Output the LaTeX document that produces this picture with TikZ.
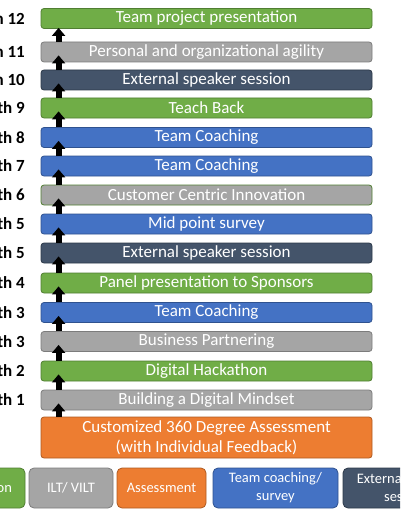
\documentclass[tikz,border=0pt]{standalone}
\usepackage{fontspec}
\setmainfont{Carlito}
\usetikzlibrary{arrows.meta}
\definecolor{leafgreen}{HTML}{70AD47}
\definecolor{leafgreenline}{HTML}{507E32}
\definecolor{ashgray}{HTML}{A5A5A5}
\definecolor{ashgrayline}{HTML}{7C7C7C}
\definecolor{slatenavy}{HTML}{44546A}
\definecolor{slatenavyline}{HTML}{2C3848}
\definecolor{royalblue}{HTML}{4472C4}
\definecolor{royalblueline}{HTML}{2F528F}
\definecolor{pumpkin}{HTML}{ED7D31}
\definecolor{pumpkinline}{HTML}{AE5A21}

\tikzset{
  bar/.style={rounded corners=3pt, line width=0.8pt, minimum width=331pt, minimum height=20pt, inner sep=0pt, text=white, font=\fontsize{17}{20}\selectfont},
  greenbar/.style={bar, fill=leafgreen, draw=leafgreenline},
  graybar/.style={bar, fill=ashgray, draw=ashgrayline},
  greengraybar/.style={bar, fill=ashgray, draw=leafgreenline},
  navybar/.style={bar, fill=slatenavy, draw=slatenavyline},
  bluebar/.style={bar, fill=royalblue, draw=royalblueline},
  monthlabel/.style={anchor=east, inner sep=0pt, font=\fontsize{17}{20}\selectfont\bfseries},
  legendbox/.style={rounded corners=5pt, line width=0.8pt, minimum height=40pt, inner sep=0pt, text=white, align=center, font=\fontsize{14.5}{18}\selectfont},
  uparrow/.style={-{Triangle[width=13pt,length=8pt]}, line width=6pt, black}
}

\begin{document}
\begin{tikzpicture}[x=1pt,y=-1pt]
\useasboundingbox (0,0) rectangle (400,516);
\clip (0,0) rectangle (400,516);

\node[bar, fill=pumpkin, draw=pumpkinline, minimum height=41pt, align=center] (start) at (206.5,437.5) {Customized 360 Degree Assessment\\(with Individual Feedback)};

\foreach \i/\y/\kind/\month/\txt in {
  1/400/graybar/1/Building a Digital Mindset,
  2/371/greenbar/2/Digital Hackathon,
  3/341.5/graybar/3/Business Partnering,
  4/312.5/bluebar/3/Team Coaching,
  5/283/greenbar/4/Panel presentation to Sponsors,
  6/253/navybar/5/External speaker session,
  7/224/bluebar/5/Mid point survey,
  8/195/greengraybar/6/Customer Centric Innovation,
  9/166/bluebar/7/Team Coaching,
  10/137.5/bluebar/8/Team Coaching,
  11/108/greenbar/9/Teach Back,
  12/80/navybar/10/External speaker session,
  13/52/graybar/11/Personal and organizational agility,
  14/18.5/greenbar/12/Team project presentation}{
  \node[\kind] (b\i) at (206.5,\y) {\txt};
  \node[monthlabel] (m\i) at (25,\y) {Month \month};
}

\draw[uparrow] ([xshift=18pt]start.north west) -- ([xshift=18pt,yshift=7pt]b1.south west);
\foreach \i in {1,...,12}{
  \pgfmathtruncatemacro{\j}{\i+1}
  \draw[uparrow] ([xshift=18pt]b\i.north west) -- ([xshift=18pt,yshift=7pt]b\j.south west);
}
\draw[uparrow] ([xshift=18pt]b13.north west) -- ([xshift=18pt,yshift=1pt]b14.south west);

\node[legendbox, fill=leafgreen, draw=leafgreenline, minimum width=101pt] (presentation) at (-25.5,488) {Presentation};
\node[legendbox, fill=ashgray, draw=ashgrayline, minimum width=84pt] (ilt) at (71,488) {ILT/ VILT};
\node[legendbox, fill=pumpkin, draw=pumpkinline, minimum width=89pt] (assessment) at (161.5,488) {Assessment};
\node[legendbox, fill=royalblue, draw=royalblueline, minimum width=125pt] (coaching) at (275.5,488) {Team coaching/\\survey};
\node[legendbox, fill=slatenavy, draw=slatenavyline, minimum width=125pt] (speaker) at (405.5,488) {External speaker\\session};
\end{tikzpicture}
\end{document}
